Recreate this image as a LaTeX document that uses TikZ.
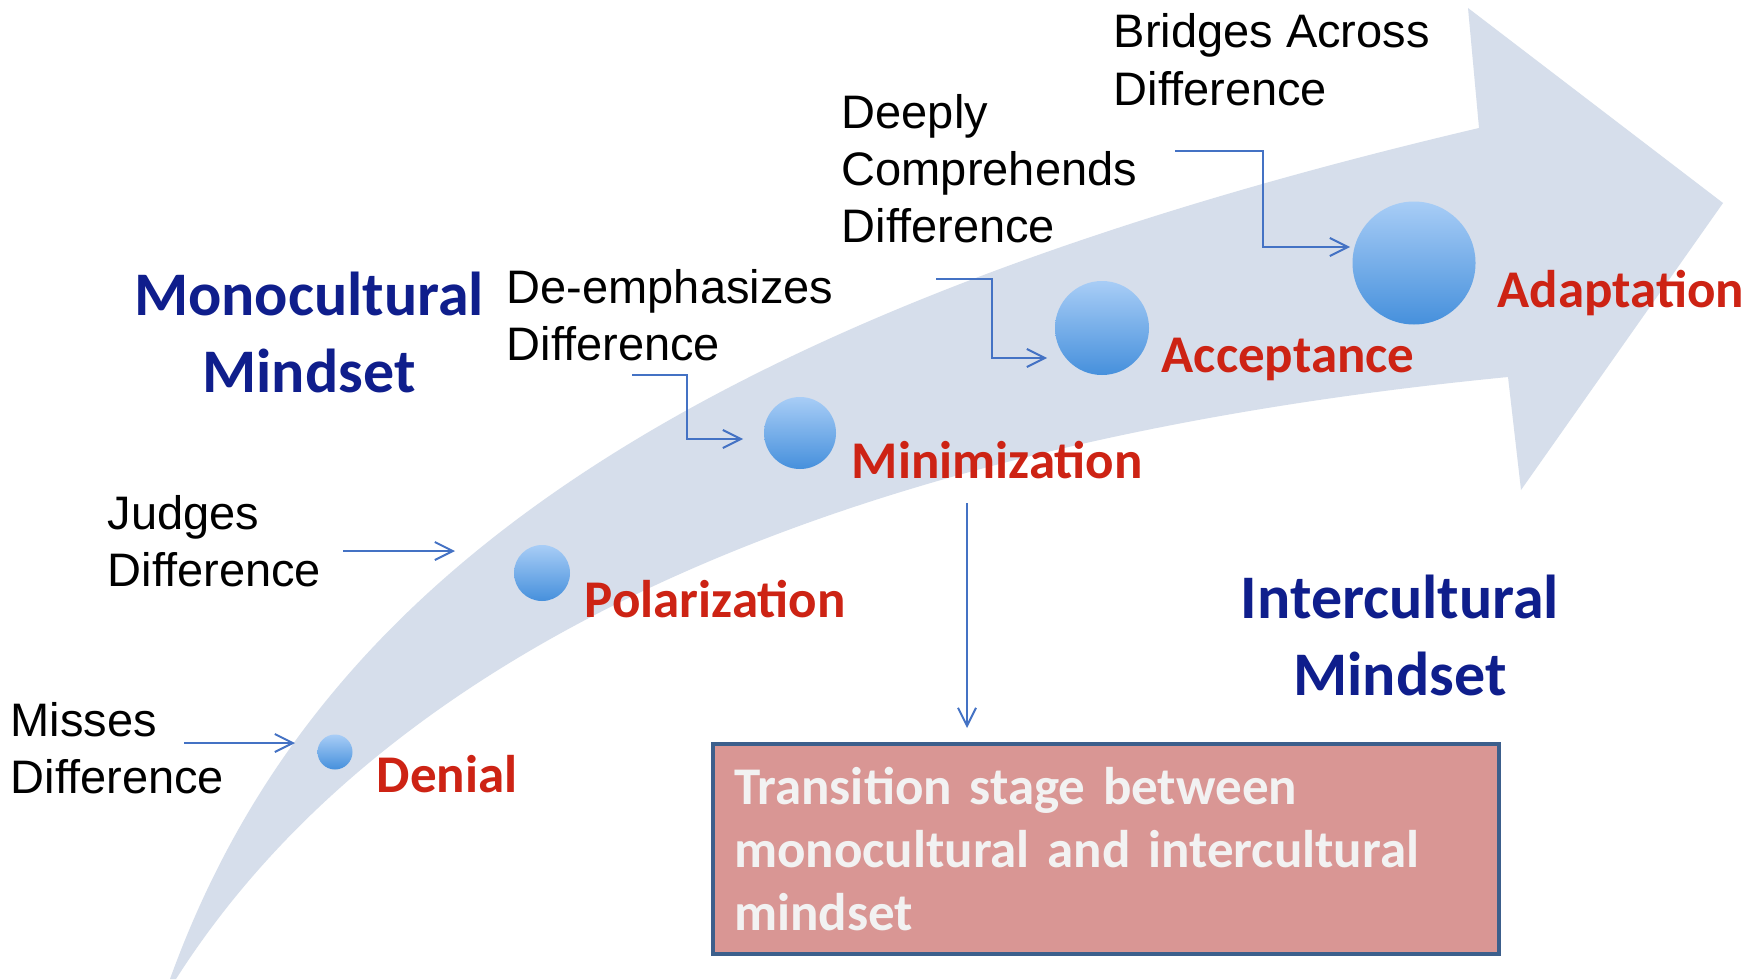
\documentclass[tikz,border=0pt]{standalone}
\usepackage{fontspec}
\setmainfont{Liberation Sans}
\newfontfamily\calibri{Carlito}
\usetikzlibrary{arrows.meta}

\definecolor{bandfill}{RGB}{214,222,235}
\definecolor{linkblue}{RGB}{68,114,196}
\definecolor{stagered}{RGB}{205,35,20}
\definecolor{mindnavy}{RGB}{15,30,140}
\definecolor{boxfill}{RGB}{217,150,148}
\definecolor{boxline}{RGB}{60,95,140}
\definecolor{boxtext}{RGB}{242,242,242}
\definecolor{ballTop}{RGB}{168,205,246}
\definecolor{ballBot}{RGB}{70,144,220}

\tikzset{every picture/.style={line width=0.75pt},
  note/.style={anchor=base west, align=left, inner sep=0pt, font=\fontsize{23.5}{28.5}\selectfont},
  mind/.style={anchor=base, align=center, inner sep=0pt, text=mindnavy, font=\calibri\bfseries\fontsize{31}{38.5}\selectfont},
  stage/.style={anchor=base west, inner sep=0pt, text=stagered, font=\calibri\bfseries\fontsize{26.5}{31}\selectfont},
  ball/.style={circle, inner sep=0pt, minimum size=#1, top color=ballTop, bottom color=ballBot},
  link/.style={draw=linkblue, line width=1pt, -{Straight Barb[length=9pt,width=9pt]}},
  transbox/.style={draw=boxline, line width=2pt, fill=boxfill, text=boxtext, anchor=north west, align=left,
    minimum width=393pt, minimum height=105pt, text width=372pt, inner xsep=10.5pt,
    font=\calibri\bfseries\fontsize{26.5}{31.5}\selectfont}
}

\begin{document}
\begin{tikzpicture}[x=0.5pt,y=0.5pt,yscale=-1,xscale=1]
\fill[white] (0,0) rectangle (1764,979);
\useasboundingbox (0,0) rectangle (1764,979);

% curved band arrow
\fill[bandfill] (170,979) .. controls (300,620) and (620,330) .. (1479,128) -- (1468,8) -- (1723,203) -- (1521,490) -- (1508,377) .. controls (760,450) and (360,690) .. (176,979) -- cycle ;

% stages
\node[ball=17.5pt] (denial) at (335,752) {};
\node[ball=28pt] (polar) at (542,573) {};
\node[ball=36pt] (minim) at (800,433) {};
\node[ball=47pt] (accept) at (1102,328) {};
\node[ball=61.5pt] (adapt) at (1414,263) {};

\node[stage] (denialTxt) at (376,792) {Denial};
\node[stage] (polarTxt) at (584,617) {Polarization};
\node[stage] (minimTxt) at (851,478) {Minimization};
\node[stage] (acceptTxt) at (1161,372) {Acceptance};
\node[stage] (adaptTxt) at (1497,307) {Adaptation};

% mindsets (base = last line)
\node[mind] (monoTxt) at (309,392) {Monocultural\\Mindset};
\node[mind] (interTxt) at (1400,695) {Intercultural\\Mindset};

% notes
\node[note] (missTxt) at (10,793) {Misses\\Difference};
\node[note] (judgeTxt) at (107,586) {Judges\\Difference};
\node[note] (deemTxt) at (506,360) {De-emphasizes\\Difference};
\node[note] (deepTxt) at (841,242) {Deeply\\Comprehends\\Difference};
\node[note] (bridgeTxt) at (1113,105) {Bridges Across\\Difference};

\node[transbox] (trans) at (711,742) {Transition stage between\\monocultural and intercultural\\mindset};

% connectors
\coordinate (missFrom) at (184,743);
\coordinate (missTo) at (295,743);
\coordinate (judgeFrom) at (343,551);
\coordinate (judgeTo) at (455,551);
\coordinate (deemFrom) at (632,375);
\coordinate (deemTo) at (743,439);
\coordinate (deepFrom) at (936,279);
\coordinate (deepTo) at (1047,358);
\coordinate (bridgeFrom) at (1175,151);
\coordinate (bridgeTo) at (1350,247);
\coordinate (minDrop) at (967,503);

\draw[link] (missFrom) -- (missTo);
\draw[link] (judgeFrom) -- (judgeTo);
\draw[link] (deemFrom) -- ++(55,0) |- (deemTo);
\draw[link] (deepFrom) -- ++(56,0) |- (deepTo);
\draw[link] (bridgeFrom) -- ++(88,0) |- (bridgeTo);
\draw[link, shorten >=7pt] (minDrop) -- (minDrop |- trans.north);

\end{tikzpicture}
\end{document}
